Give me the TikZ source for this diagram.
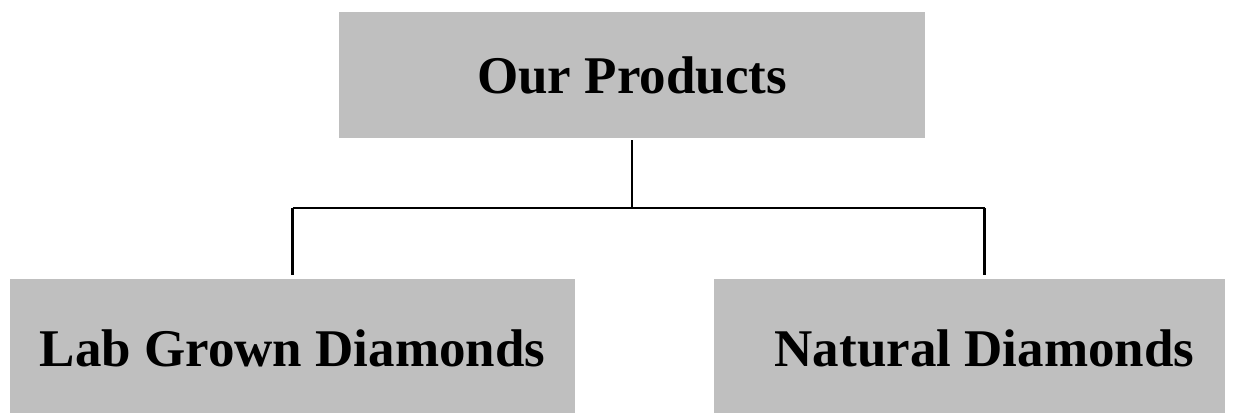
\documentclass[tikz,border=0pt]{standalone}
\usepackage{fontspec}
\setmainfont{Liberation Serif}
\usepackage{tikz}
\usetikzlibrary{positioning,calc}
\usepackage{xcolor}
\definecolor{boxgray}{HTML}{BFBFBF}
\tikzset{prodbox/.style={fill=boxgray,inner sep=0pt,align=center,font=\fontsize{53}{60}\selectfont\bfseries},boxlbl/.style={font=\fontsize{53}{60}\selectfont\bfseries,yshift=-3pt},link/.style={line width=2.2pt,draw=black}}

\begin{document}
\begin{tikzpicture}[x=1pt,y=-1pt]
\useasboundingbox (0,0) rectangle (1241,415);
\node[prodbox,minimum width=586pt,minimum height=126pt] (prod) at (632,75) {Our Products};
\node[prodbox,minimum width=565pt,minimum height=134pt,label={[boxlbl,name=labt]center:Lab Grown Diamonds}] (lab) at (292.5,345.5) {};
\node[prodbox,minimum width=511pt,minimum height=134pt,label={[boxlbl,name=natt,xshift=15pt]center:Natural Diamonds}] (nat) at (969.5,345.5) {};
\coordinate (bus) at (632,208);
\draw[link,shorten <=2pt](prod.south)--(bus);
\draw[link](bus-|lab.north)--(bus-|natt.north);
\draw[link,shorten >=3pt](bus-|lab.north)--(lab.north);
\draw[link,shorten >=3pt](bus-|natt.north)--(nat.north-|natt.north);
\end{tikzpicture}
\end{document}
